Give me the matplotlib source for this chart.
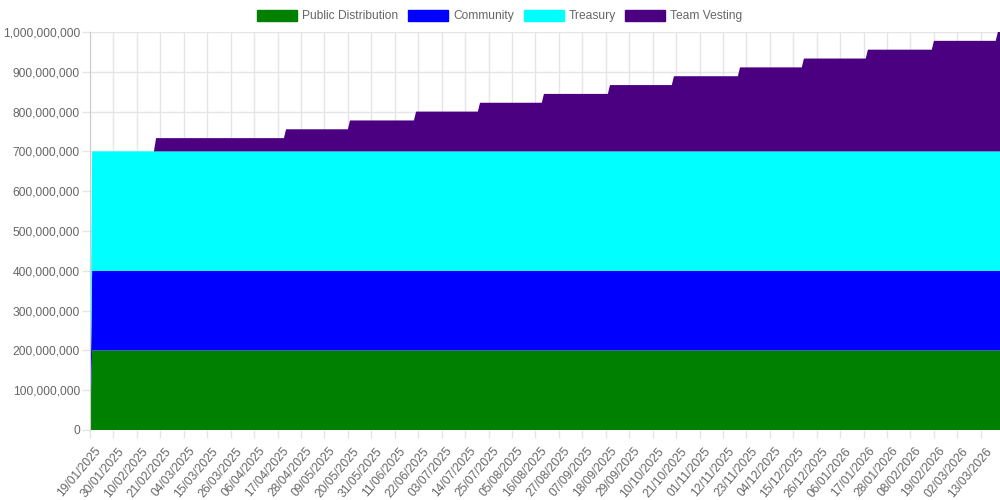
import numpy as np
import pandas as pd
import matplotlib
matplotlib.use('Agg')
import matplotlib.pyplot as plt
from matplotlib.patches import Patch
from matplotlib.transforms import ScaledTranslation

plt.rcParams['font.family'] = ['Liberation Sans', 'DejaVu Sans']

# данные
start = '2025-01-19'
end = '2026-03-22'
public_amount = 200_000_000
community_amount = 200_000_000
treasury_amount = 300_000_000
team_dates = ['2025-02-19', '2025-04-21', '2025-05-21', '2025-06-21', '2025-07-21',
              '2025-08-20', '2025-09-20', '2025-10-20', '2025-11-20', '2025-12-20',
              '2026-01-19', '2026-02-19', '2026-03-21']
team_amounts = [33_333_333] + [22_222_222] * 12
labels = ['Public Distribution', 'Community', 'Treasury', 'Team Vesting']
colors = ['#008000', '#0000ff', '#00ffff', '#4b0082']

dates = pd.date_range(start, end, freq='D')
n = len(dates)
x = np.arange(n)

public = np.full(n, public_amount, dtype=float)
community = np.full(n, community_amount, dtype=float)
treasury = np.full(n, treasury_amount, dtype=float)
public[0] = community[0] = treasury[0] = 0
team = np.zeros(n)
for d, a in zip(team_dates, team_amounts):
    team[dates >= pd.Timestamp(d)] += a

fig = plt.figure(figsize=(10, 5), dpi=100)
ax = fig.add_axes([0.09, 0.14, 0.91, 0.796])

ax.stackplot(x, public, community, treasury, team, colors=colors, linewidth=0, zorder=2)

grid_c = '#e5e5e5'
ax.set_xlim(0, n - 1)
ax.set_ylim(0, 1_000_000_000)
ax.set_yticks(np.arange(0, 1_000_000_001, 100_000_000))
ax.set_yticklabels([f'{v:,}' for v in np.arange(0, 1_000_000_001, 100_000_000)])
xt = x[::11]
ax.set_xticks(xt)
ax.set_xticklabels([dates[i].strftime('%d/%m/%Y') for i in xt])
ax.grid(True, color=grid_c, linewidth=1, zorder=0)
ax.set_axisbelow(True)
for s in ['top', 'right', 'bottom']:
    ax.spines[s].set_visible(False)
ax.spines['left'].set_color('#cccccc')
ax.tick_params(axis='y', length=5.76, width=1, color=grid_c, pad=1.5, labelsize=8.64, labelcolor='#666666')
ax.tick_params(axis='x', length=5.76, width=1, color=grid_c, pad=8, labelsize=8.64, labelcolor='#666666')
off = ScaledTranslation(0.09, 0, fig.dpi_scale_trans)
for lab in ax.get_xticklabels():
    lab.set_rotation(50)
    lab.set_ha('right')
    lab.set_va('center')
    lab.set_rotation_mode('anchor')
    lab.set_transform(lab.get_transform() + off)

handles = [Patch(facecolor=c, edgecolor=c, linewidth=1) for c in colors]
leg = fig.legend(handles, labels, loc='center', bbox_to_anchor=(0.5, 1 - 16 / 500), ncol=4,
                 frameon=False, fontsize=8.64, handlelength=3.33, handleheight=1.0,
                 handletextpad=0.42, columnspacing=0.8, borderpad=0)
for t in leg.get_texts():
    t.set_color('#666666')

fig.savefig('out.png', dpi=100)
